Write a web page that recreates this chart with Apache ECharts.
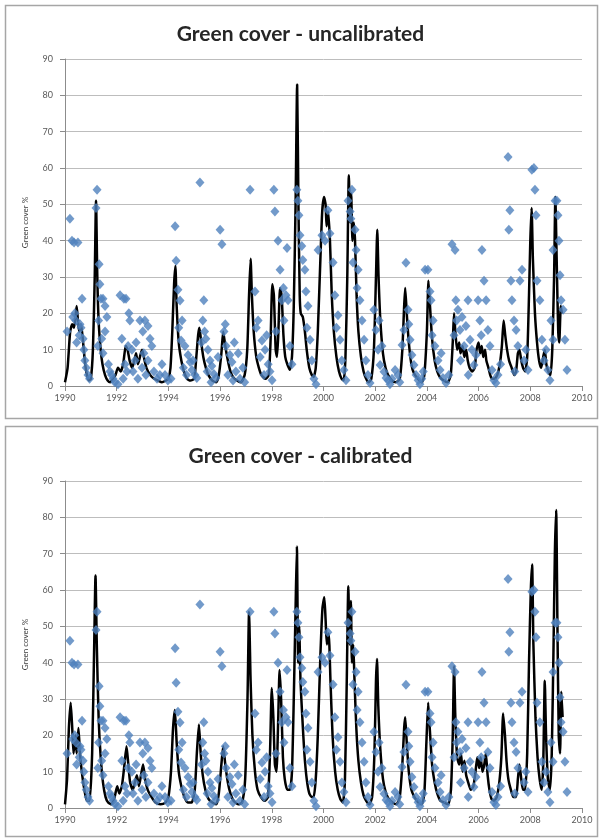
<!DOCTYPE html>
<html>
<head>
<meta charset="utf-8">
<script src="https://cdn.jsdelivr.net/npm/echarts@6/dist/echarts.min.js"></script>
<style>
  html, body { margin: 0; padding: 0; background: #ffffff; }
  #main { width: 601px; height: 838px; }
</style>
</head>
<body>
<div id="main"></div>
<script>
// Panel titles and axis text
const titles = ['Green cover - uncalibrated', 'Green cover - calibrated'];
const yAxisName = 'Green cover %';
const xTicks = { min: 1990, max: 2010, step: 2 };
const yTicks = { min: 0, max: 90, step: 10 };

// Observed green cover (%), [decimal year, value] - same observations in both panels
const observed = [
  [1990.08,15],[1990.19,46],[1990.27,40],[1990.35,39.5],[1990.5,39.5],[1990.3,19],[1990.42,18],[1990.58,17],[1990.66,24],[1990.77,7],[1990.73,10],[1990.89,3],[1990.55,14],[1990.45,12],[1990.62,16],[1990.82,5],[1990.95,2],[1990.38,20],[1990.7,13],
  [1991.24,54],[1991.2,49],[1991.32,33.5],[1991.35,28],[1991.39,24],[1991.47,24],[1991.55,22],[1991.62,19],[1991.55,15],[1991.3,18],[1991.27,11],[1991.47,9],[1991.74,4],[1991.86,2],[1991.93,1],[1992.05,0.5],[1991.68,6],[1991.8,3],[1991.42,13],
  [1992.13,25],[1992.28,24],[1992.36,24],[1992.2,13],[1992.44,11],[1992.51,18],[1992.32,6],[1992.59,10],[1992.71,7],[1992.63,4],[1992.82,2],[1992.9,18],[1993.01,15],[1993.09,18],[1993.21,16.5],[1993.29,13],[1993.36,11],[1993.21,7],[1993.44,4],[1993.56,2],[1993.67,3],[1993.75,6],[1993.87,3],[1993.98,1.5],[1992.25,2],[1992.4,4],[1992.98,5],[1993.13,3],[1992.47,20],[1992.75,12],[1993.05,9],
  [1994.26,44],[1994.3,34.5],[1994.37,26.5],[1994.45,23.5],[1994.53,18],[1994.49,12.5],[1994.64,11],[1994.76,8.5],[1994.84,6.6],[1994.91,4.4],[1995.03,3],[1995.1,2.2],[1994.7,3],[1994.95,7],[1994.1,2],[1994.4,16],[1994.58,5],
  [1995.22,56],[1995.33,18],[1995.37,23.6],[1995.45,13],[1995.53,10],[1995.61,7],[1995.68,5.5],[1995.76,3.3],[1995.84,2.2],[1995.92,8],[1995.5,4],[1995.65,1],[1995.4,15],[1995.28,12],
  [1996.0,43],[1996.07,39],[1996.15,15],[1996.23,11],[1996.38,8.5],[1996.46,6.6],[1996.61,4],[1996.77,2],[1996.7,9],[1996.88,5],[1996.3,3],[1996.5,1.5],[1996.95,1],[1996.2,17],[1996.55,12],
  [1997.16,54],[1997.35,26],[1997.47,18],[1997.62,12.5],[1997.74,10],[1997.86,6],[1997.93,4],[1998.01,1.6],[1997.55,8],[1997.7,3],[1997.4,16],[1997.8,14],
  [1998.08,54],[1998.12,48],[1998.24,40],[1998.32,32],[1998.39,23.6],[1998.47,18],[1998.55,25],[1998.63,23.6],[1998.16,15],[1998.7,11],[1998.59,38],[1998.78,6],[1998.45,27],
  [1998.97,54],[1999.01,51],[1999.05,47],[1999.09,41.5],[1999.16,38.5],[1999.2,34.7],[1999.28,32],[1999.32,26],[1999.4,22],[1999.48,12.7],[1999.55,7],[1999.63,2],[1999.71,0.5],[1999.36,16],
  [1999.79,37.4],[1999.94,41.5],[2000.06,40],[2000.17,48.4],[2000.25,42],[2000.37,34],[2000.44,25],[2000.56,19.5],[2000.64,12.7],[2000.71,7],[2000.79,4.4],[2000.87,1.6],[2000.5,16],
  [2000.95,51],[2001.03,48],[2001.06,46],[2001.1,54],[2001.14,34],[2001.22,43],[2001.26,37.4],[2001.34,32],[2001.41,23.6],[2001.49,18],[2001.57,12.7],[2001.64,7],[2001.72,3],[2001.8,0.8],[2001.3,27],
  [2001.95,21],[2002.03,15.4],[2002.11,10],[2002.19,5.8],[2002.26,11],[2002.34,3.9],[2002.42,2.2],[2002.5,1.6],[2002.57,0.5],[2002.77,4.4],[2002.88,3],[2002.65,2],[2002.95,1],[2002.15,18],
  [2003.04,11.3],[2003.11,15.4],[2003.19,33.9],[2003.27,21],[2003.35,12.7],[2003.42,8.5],[2003.5,5.8],[2003.58,3],[2003.66,1.6],[2003.73,0.5],[2003.8,2],[2003.86,4],[2003.3,17],
  [2003.93,32],[2004.04,32],[2004.12,26],[2004.16,23.6],[2004.24,18],[2004.31,11],[2004.43,7],[2004.51,4.4],[2004.62,2.2],[2004.74,0.8],[2004.55,9],[2004.85,3],[2004.2,14],
  [2004.97,39],[2005.09,37.4],[2005.12,23.6],[2005.2,21],[2005.28,15.4],[2005.36,19],[2005.44,11],[2005.51,16.5],[2005.59,23.6],[2005.67,12.7],[2005.74,10],[2005.82,5.8],[2005.9,8.5],[2005.05,14],[2005.3,7],[2005.6,3],[2005.15,18],
  [2005.98,23.6],[2006.05,18],[2006.13,37.4],[2006.21,29],[2006.29,23.6],[2006.36,15.4],[2006.44,11],[2006.52,4.4],[2006.59,1.6],[2006.67,0.8],[2006.75,3],[2006.85,6],[2006.1,14],
  [2007.14,63],[2007.21,48.4],[2007.17,43],[2007.25,29],[2007.29,23.6],[2007.37,18],[2007.45,15.4],[2007.52,11],[2007.6,29],[2007.68,32],[2007.76,7],[2007.83,10],[2007.91,4.4],[2007.4,4],
  [2008.06,59.5],[2008.14,60],[2008.18,54],[2008.22,47],[2008.26,29],[2008.37,23.6],[2008.45,12.7],[2008.53,7],[2008.61,10],[2008.68,4.4],[2008.76,1.6],[2008.8,18],[2008.88,12.7],
  [2008.88,37.4],[2008.96,51],[2009.03,51],[2009.07,47],[2009.11,40],[2009.15,30.5],[2009.19,23.6],[2009.27,21],[2009.34,12.7],[2009.42,4.4]
];

// Modelled green cover before calibration, [decimal year, value]
const modelUncalibrated = [
  [1990.0,1],[1990.1,5],[1990.2,15],[1990.28,17],[1990.35,16],[1990.45,22],[1990.5,18],[1990.55,15],[1990.62,17],[1990.7,12],[1990.78,6],[1990.85,3],[1990.92,1.5],
  [1991.0,2],[1991.08,10],[1991.15,30],[1991.2,51],[1991.25,30],[1991.3,18],[1991.38,10],[1991.45,6],[1991.55,3],[1991.65,1.5],[1991.75,1],[1991.85,2],[1991.95,3],
  [1992.05,5],[1992.15,4],[1992.25,6],[1992.35,11],[1992.42,10],[1992.5,7],[1992.6,5],[1992.68,7],[1992.75,9],[1992.82,6],[1992.9,8],[1992.98,10],
  [1993.05,8],[1993.15,5],[1993.3,3],[1993.45,2],[1993.6,1.5],[1993.75,1],[1993.9,1.5],
  [1994.0,2],[1994.08,5],[1994.15,15],[1994.22,28],[1994.27,33],[1994.32,22],[1994.4,12],[1994.5,7],[1994.6,4],[1994.72,2],[1994.85,1.5],
  [1995.0,2],[1995.08,8],[1995.15,14],[1995.2,16],[1995.27,12],[1995.35,8],[1995.45,5],[1995.55,3],[1995.7,1.5],[1995.85,1],[1995.95,3],
  [1996.05,9],[1996.12,15],[1996.2,11],[1996.3,7],[1996.4,4],[1996.5,2.5],[1996.65,1.5],[1996.8,1],[1996.95,3],
  [1997.05,10],[1997.12,25],[1997.18,35],[1997.23,25],[1997.3,15],[1997.4,8],[1997.5,5],[1997.6,3],[1997.75,2],[1997.88,3],[1997.95,12],
  [1998.02,28],[1998.08,25],[1998.15,10],[1998.2,8],[1998.25,14],[1998.32,27],[1998.38,25],[1998.45,14],[1998.52,8],[1998.6,6],[1998.7,4.5],[1998.78,8],[1998.85,22],[1998.92,50],[1998.98,83],
  [1999.03,50],[1999.08,25],[1999.12,20],[1999.2,19],[1999.28,15],[1999.35,10],[1999.45,5],[1999.55,3],[1999.62,2.5],[1999.7,5],[1999.78,15],[1999.88,35],[1999.95,48],
  [2000.02,52],[2000.08,50],[2000.12,44],[2000.18,48],[2000.25,40],[2000.32,25],[2000.4,15],[2000.5,8],[2000.6,4],[2000.7,2],[2000.78,1.5],[2000.85,8],[2000.92,30],[2000.98,58],
  [2001.03,45],[2001.07,53],[2001.12,40],[2001.17,45],[2001.22,40],[2001.28,25],[2001.35,15],[2001.45,8],[2001.55,4],[2001.65,2],[2001.75,1],[2001.85,2],[2001.95,10],
  [2002.03,30],[2002.08,43],[2002.13,30],[2002.2,18],[2002.3,9],[2002.4,5],[2002.5,3],[2002.65,1.5],[2002.8,1],[2002.95,2],
  [2003.05,10],[2003.12,22],[2003.16,27],[2003.22,20],[2003.3,12],[2003.4,6],[2003.5,3.5],[2003.65,2],[2003.8,1],[2003.9,3],
  [2004.0,15],[2004.06,29],[2004.12,22],[2004.2,13],[2004.3,7],[2004.4,4],[2004.5,2.5],[2004.65,1.5],[2004.8,1],[2004.92,3],
  [2005.0,12],[2005.05,20],[2005.1,15],[2005.17,10],[2005.25,12],[2005.3,9],[2005.38,11],[2005.45,8],[2005.52,10],[2005.58,7],[2005.65,5],[2005.75,4],[2005.85,5],[2005.92,10],
  [2006.0,12],[2006.06,9],[2006.12,11],[2006.18,8],[2006.25,10],[2006.3,7],[2006.38,5],[2006.45,3],[2006.52,2],[2006.62,2],[2006.72,3],[2006.82,6],[2006.9,11],[2006.97,18],
  [2007.03,14],[2007.1,10],[2007.18,7],[2007.28,5],[2007.38,3],[2007.45,4],[2007.52,9],[2007.58,10],[2007.65,7],[2007.72,5],[2007.8,4],[2007.88,8],[2007.95,25],
  [2008.0,40],[2008.05,49],[2008.1,35],[2008.18,20],[2008.26,12],[2008.34,7],[2008.42,5],[2008.5,8],[2008.56,10],[2008.62,6],[2008.7,4],[2008.78,3],[2008.85,10],[2008.92,30],[2008.97,52],
  [2009.02,35],[2009.08,15],[2009.12,12],[2009.18,22],[2009.22,20]
];

// Modelled green cover after calibration, [decimal year, value]
const modelCalibrated = [
  [1990.0,1],[1990.08,8],[1990.15,22],[1990.22,29],[1990.28,22],[1990.33,15],[1990.4,20],[1990.45,15],[1990.52,22],[1990.58,15],[1990.65,10],[1990.75,5],[1990.85,2],[1990.95,2],
  [1991.05,15],[1991.13,45],[1991.18,64],[1991.23,45],[1991.3,25],[1991.38,14],[1991.47,7],[1991.57,3],[1991.67,1.5],[1991.8,1],[1991.92,3],
  [1992.02,6],[1992.1,4],[1992.2,6],[1992.3,12],[1992.38,17],[1992.45,12],[1992.52,7],[1992.62,5],[1992.7,7],[1992.78,9],[1992.86,6],[1992.94,9],
  [1993.02,12],[1993.1,8],[1993.2,5],[1993.35,3],[1993.5,1.5],[1993.7,1],[1993.88,1.5],
  [1994.0,3],[1994.1,10],[1994.18,22],[1994.25,27],[1994.32,18],[1994.4,10],[1994.5,6],[1994.62,3],[1994.75,1.5],[1994.9,1.5],
  [1995.02,5],[1995.1,15],[1995.18,23],[1995.25,15],[1995.33,9],[1995.43,5],[1995.55,2.5],[1995.7,1.5],[1995.85,1],[1995.95,4],
  [1996.05,12],[1996.12,17],[1996.2,12],[1996.3,7],[1996.4,4],[1996.52,2],[1996.7,1],[1996.85,1.5],[1996.97,8],
  [1997.06,30],[1997.12,54],[1997.18,35],[1997.25,20],[1997.35,10],[1997.45,5],[1997.58,3],[1997.72,2],[1997.85,3],[1997.93,15],
  [1998.0,33],[1998.06,25],[1998.12,12],[1998.18,10],[1998.25,25],[1998.3,38],[1998.36,30],[1998.43,14],[1998.5,8],[1998.6,5],[1998.7,5],[1998.78,10],[1998.85,30],[1998.92,55],[1998.97,72],
  [1999.02,40],[1999.06,50],[1999.11,35],[1999.18,25],[1999.26,15],[1999.35,8],[1999.45,4],[1999.55,3],[1999.62,3],[1999.7,8],[1999.78,20],[1999.88,42],[1999.96,55],
  [2000.03,58],[2000.08,52],[2000.13,45],[2000.2,48],[2000.27,35],[2000.35,20],[2000.45,10],[2000.55,5],[2000.65,2.5],[2000.75,1.5],[2000.83,8],[2000.9,35],[2000.96,61],
  [2001.01,45],[2001.06,57],[2001.1,40],[2001.15,45],[2001.2,35],[2001.27,22],[2001.35,13],[2001.45,7],[2001.55,3.5],[2001.65,2],[2001.77,1],[2001.88,3],[2001.97,15],
  [2002.03,35],[2002.07,41],[2002.12,28],[2002.2,16],[2002.3,8],[2002.4,4.5],[2002.52,2.5],[2002.67,1.5],[2002.82,1],[2002.95,3],
  [2003.05,12],[2003.12,22],[2003.16,25],[2003.22,18],[2003.3,10],[2003.4,5],[2003.52,3],[2003.67,1.5],[2003.8,1],[2003.9,4],[2003.98,18],
  [2004.05,29],[2004.11,22],[2004.2,12],[2004.3,7],[2004.4,4],[2004.52,2],[2004.67,1.5],[2004.82,1],[2004.93,5],
  [2005.0,20],[2005.05,39],[2005.1,25],[2005.17,14],[2005.25,12],[2005.32,15],[2005.38,10],[2005.45,13],[2005.52,9],[2005.6,7],[2005.7,5],[2005.8,6],[2005.88,10],[2005.95,14],
  [2006.02,11],[2006.08,14],[2006.15,10],[2006.22,12],[2006.28,15],[2006.35,9],[2006.42,5],[2006.5,2.5],[2006.6,2],[2006.7,3],[2006.8,7],[2006.88,14],[2006.95,26],
  [2007.02,20],[2007.08,13],[2007.15,8],[2007.25,5],[2007.35,3],[2007.45,3],[2007.52,8],[2007.58,12],[2007.65,8],[2007.72,5],[2007.8,5],[2007.88,15],[2007.95,40],
  [2008.02,60],[2008.07,67],[2008.12,45],[2008.2,25],[2008.28,14],[2008.36,8],[2008.44,5],[2008.5,12],[2008.56,35],[2008.61,20],[2008.68,8],[2008.76,5],[2008.83,15],[2008.9,45],[2008.95,70],
  [2009.0,82],[2009.05,50],[2009.1,20],[2009.15,15],[2009.2,32],[2009.25,25]
];

const models = [modelUncalibrated, modelCalibrated];

const FONT = 'Lato, "Open Sans", sans-serif';
const panelTops = [59, 481];
const plotHeight = 327;

const chart = echarts.init(document.getElementById('main'), null, { renderer: 'canvas' });

function xAxisFor(i) {
  return {
    type: 'value', gridIndex: i,
    min: xTicks.min, max: xTicks.max, interval: xTicks.step,
    axisLine: { show: true, lineStyle: { color: '#8c8c8c', width: 1 } },
    axisTick: { show: true, length: 5, lineStyle: { color: '#8c8c8c' } },
    axisLabel: { fontFamily: FONT, fontSize: 9, color: '#595959', margin: 8, formatter: v => String(v) },
    splitLine: { show: false }
  };
}

function yAxisFor(i) {
  return {
    type: 'value', gridIndex: i,
    min: yTicks.min, max: yTicks.max, interval: yTicks.step,
    name: yAxisName, nameLocation: 'middle', nameRotate: 90, nameGap: 36,
    nameTextStyle: { fontFamily: FONT, fontSize: 8, color: '#404040' },
    axisLine: { show: true, lineStyle: { color: '#8c8c8c', width: 1 } },
    axisTick: { show: true, length: 5, lineStyle: { color: '#8c8c8c' } },
    axisLabel: { fontFamily: FONT, fontSize: 9, color: '#595959', margin: 12 },
    splitLine: { show: true, lineStyle: { color: '#bdbdbd', width: 1 } }
  };
}

const series = [];
models.forEach((m, i) => {
  series.push({
    type: 'line', xAxisIndex: i, yAxisIndex: i,
    data: m, showSymbol: false, smooth: 0.2,
    lineStyle: { color: '#000000', width: 2.5 },
    z: 2, silent: true, animation: false
  });
  series.push({
    type: 'scatter', xAxisIndex: i, yAxisIndex: i,
    data: observed, symbol: 'diamond', symbolSize: [9, 10],
    itemStyle: { color: '#4f81bd' },
    z: 3, silent: true, animation: false
  });
});

chart.setOption({
  backgroundColor: '#ffffff',
  animation: false,
  title: titles.map((t, i) => ({
    text: t, left: 'center', top: i === 0 ? 19 : 441,
    textStyle: { fontFamily: FONT, fontWeight: 'bold', fontSize: 21, color: '#262626' }
  })),
  grid: panelTops.map(top => ({ left: 65, width: 517, top: top, height: plotHeight, containLabel: false })),
  xAxis: [xAxisFor(0), xAxisFor(1)],
  yAxis: [yAxisFor(0), yAxisFor(1)],
  series: series,
  graphic: [
    { type: 'rect', shape: { x: 5.5, y: 5.5, width: 592, height: 413 }, style: { fill: 'none', stroke: '#a6a6a6', lineWidth: 1.5 }, silent: true },
    { type: 'rect', shape: { x: 5.5, y: 426.5, width: 592, height: 410 }, style: { fill: 'none', stroke: '#a6a6a6', lineWidth: 1.5 }, silent: true }
  ]
});
</script>
</body>
</html>
